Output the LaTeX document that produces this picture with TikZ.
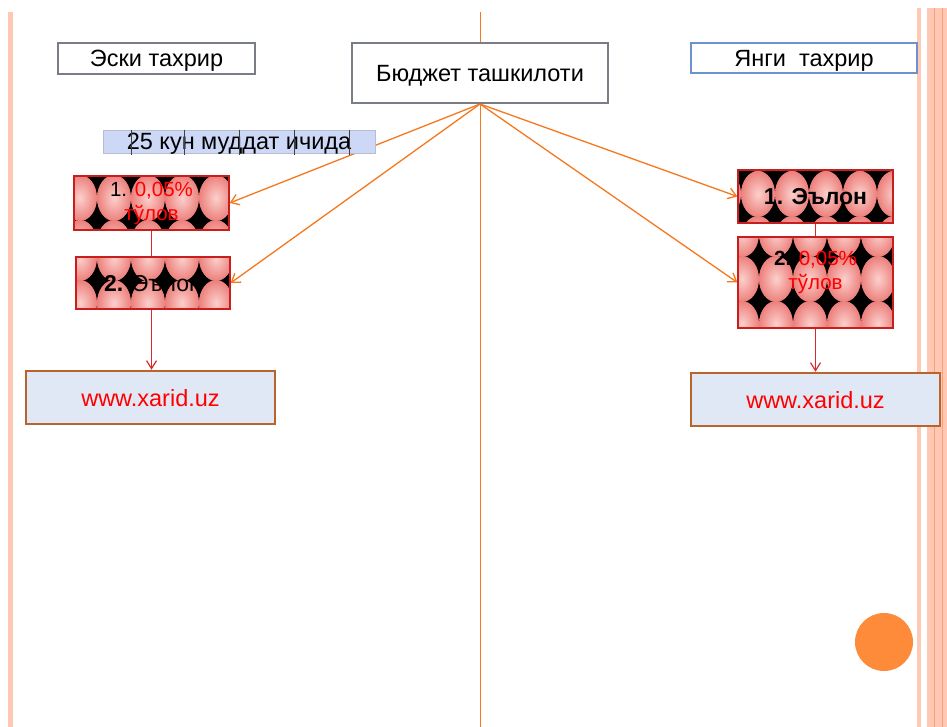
\documentclass[tikz,border=0pt]{standalone}
\usepackage{fontspec}
\setmainfont{Liberation Sans}
\usetikzlibrary{arrows.meta}
\usetikzlibrary{backgrounds}

\definecolor{edgegray}{RGB}{120,125,135}
\definecolor{edgeblue}{RGB}{110,145,210}
\definecolor{lineorange}{RGB}{245,120,30}
\definecolor{stripe}{RGB}{255,200,180}
\definecolor{stripedark}{RGB}{250,160,115}
\definecolor{webfill}{RGB}{225,232,245}
\definecolor{webedge}{RGB}{185,100,45}
\definecolor{boxred}{RGB}{200,30,30}
\definecolor{linered}{RGB}{220,40,40}
\definecolor{pinkin}{RGB}{252,208,204}
\definecolor{pinkout}{RGB}{236,128,124}
\definecolor{barfill}{RGB}{205,216,246}
\definecolor{dotorange}{RGB}{253,139,58}

\begin{document}
\begin{tikzpicture}[x=1pt,y=-1pt,
	plain/.style={draw=edgegray,line width=2pt,fill=white,inner sep=0pt,text depth=0pt,font=\fontsize{23.5}{27}\selectfont},
	pinkbox/.style 2 args={draw=boxred,line width=1.2pt,fill=black,inner sep=0pt,align=center,
		font=\fontsize{20.5}{24}\selectfont,
		path picture={\foreach \i in {-1,...,5} \foreach \j in {-1,...,2}
			\shade[inner color=pinkin,outer color=pinkout] ([shift={(\i*34+#1,\j*45+#2)}]path picture bounding box.north west) ellipse [x radius=17,y radius=23];}},
	webbox/.style={draw=webedge,line width=2.5pt,fill=webfill,inner sep=0pt,text=red,text depth=0pt,
		minimum width=249pt,minimum height=53pt,font=\fontsize{23.5}{27}\selectfont},
	orangearrow/.style={draw=lineorange,line width=1.3pt,-{Straight Barb[length=8pt,width=11pt]}},
	redline/.style={draw=linered,line width=1.2pt}]
	\useasboundingbox (0,0) rectangle (947,727);
	\fill[stripe] (7.5,12) rectangle (13,727);
	\fill[stripe] (917,8) rectangle (921,727);
	\fill[stripe] (927,8) rectangle (947,727);
	\draw[stripedark,line width=1.2pt] (934.5,8) -- (934.5,727);
	\draw[stripedark,line width=1.2pt] (942.2,8) -- (942.2,727);
	\draw[lineorange,line width=1.3pt] (480.5,12) -- (480.5,727);

	\node[plain,minimum width=197pt,minimum height=31pt] (eski) at (156.5,58.5) {Эски тахрир};
	\node[plain,minimum width=256pt,minimum height=60pt] (budget) at (480,73) {Бюджет ташкилоти};
	\node[plain,draw=edgeblue,minimum width=226pt,minimum height=30pt] (yangi) at (804,58) {Янги\ \ тахрир};
	\node[draw=barfill!70!gray,line width=0.8pt,fill=barfill,inner sep=0pt,text depth=0pt,
		minimum width=272pt,minimum height=23pt,font=\fontsize{23.5}{27}\selectfont] (muddat) at (239,141.5) {25 кун муддат ичида};
	\foreach \d in {28.5,82,137,192,247}
		\draw[black!75,line width=0.8pt] ([xshift=\d pt]muddat.north west) -- ([xshift=\d pt,yshift=-2pt]muddat.south west);

	\node[pinkbox={6}{22},minimum width=155pt,minimum height=54pt] (L1) at (151.5,203) {1. \textcolor{red}{0,05\%}\\\textcolor{red}{тўлов}};
	\node[pinkbox={4}{1},minimum width=154pt,minimum height=52pt,text depth=0pt,font=\fontsize{23}{27}\selectfont] (L2) at (153,283) {\textbf{2.} Эълон};
	\node[webbox] (Lweb) at (150.5,397.5) {www.xarid.uz};

	\node[pinkbox={20}{24},minimum width=155pt,minimum height=53pt,text depth=0pt,font=\fontsize{23}{27}\selectfont] (R1) at (815.5,196.5) {\textbf{1. Эълон}};
	\node[pinkbox={4}{-3},minimum width=155pt,minimum height=91pt] (R2) at (815.5,282.5) {\textbf{2.} \textcolor{red}{0,05\%}\\\textcolor{red}{тўлов}\\\mbox{}};
	\node[webbox] (Rweb) at (815.5,399.5) {www.xarid.uz};

	\node[circle,fill=dotorange,minimum size=58pt,inner sep=0pt] (dot) at (884,642) {};

	\begin{scope}[on background layer]
		\draw [orangearrow] (budget.south) -- (L1.east);
		\draw [orangearrow] (budget.south) -- (L2.east);
		\draw [orangearrow] (budget.south) -- (R1.west);
		\draw [orangearrow] (budget.south) -- (R2.west);
	\end{scope}
	\draw [redline] (L1.south) -- (L1.south |- L2.north);
	\draw [redline,-{Straight Barb[length=8pt,width=10pt]}] (L1.south |- L2.south) -- (L1.south |- Lweb.north);
	\draw [redline] (R1.south) -- (R2.north);
	\draw [redline,-{Straight Barb[length=8pt,width=10pt]}] (R2.south) -- (Rweb.north);
\end{tikzpicture}
\end{document}
